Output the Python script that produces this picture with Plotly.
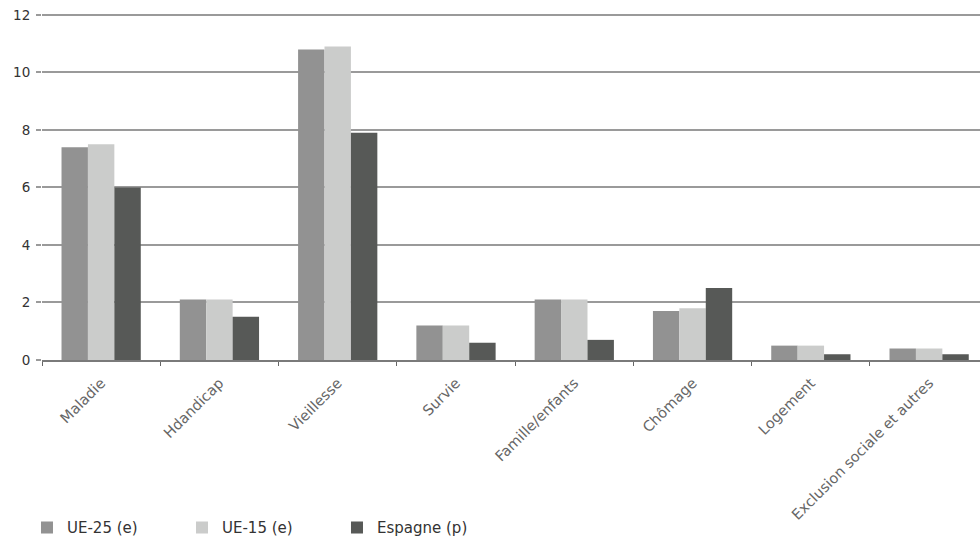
import plotly.graph_objects as go

categories = ["Maladie", "Hdandicap", "Vieillesse", "Survie", "Famille/enfants",
              "Chômage", "Logement", "Exclusion sociale et autres"]
ue25 = [7.4, 2.1, 10.8, 1.2, 2.1, 1.7, 0.5, 0.4]
ue15 = [7.5, 2.1, 10.9, 1.2, 2.1, 1.8, 0.5, 0.4]
espagne = [6.0, 1.5, 7.9, 0.6, 0.7, 2.5, 0.2, 0.2]

series = [
    ("UE-25 (e)", ue25, "#929292"),
    ("UE-15 (e)", ue15, "#cbcccb"),
    ("Espagne (p)", espagne, "#575957"),
]

fig = go.Figure()
for name, vals, color in series:
    fig.add_trace(go.Bar(x=categories, y=vals, name=name,
                         marker=dict(color=color, line=dict(width=0))))

fig.update_layout(
    width=980, height=539,
    margin=dict(l=42, r=0, t=12, b=179, autoexpand=False),
    plot_bgcolor="white", paper_bgcolor="white",
    barmode="group", bargap=0.33, bargroupgap=0,
    font=dict(family="DejaVu Sans, Liberation Sans, sans-serif", color="#444"),
    showlegend=True,
    legend=dict(orientation="h", x=-0.016, xanchor="left", y=-0.482, yanchor="middle",
                font=dict(size=15, color="#333"), entrywidth=110, entrywidthmode="pixels",
                traceorder="normal"),
    xaxis=dict(range=[-0.5, 7.43], tickangle=-45, tickfont=dict(size=14.5, color="#666"),
               ticklabelstandoff=7, automargin=False,
               showline=True, linecolor="#7a7a7a", linewidth=2,
               ticks="outside", tickson="boundaries", ticklen=4, tickcolor="#666",
               showgrid=False),
    yaxis=dict(range=[0, 12.1], tickvals=[0, 2, 4, 6, 8, 10, 12], automargin=False,
               showgrid=True, gridcolor="#9a9a9a", gridwidth=2,
               ticks="outside", ticklen=5, tickcolor="#9a9a9a", tickwidth=2,
               ticklabelstandoff=3,
               tickfont=dict(size=13.5, color="#333"), zeroline=False, showline=False),
)

fig.write_html("out.html")
